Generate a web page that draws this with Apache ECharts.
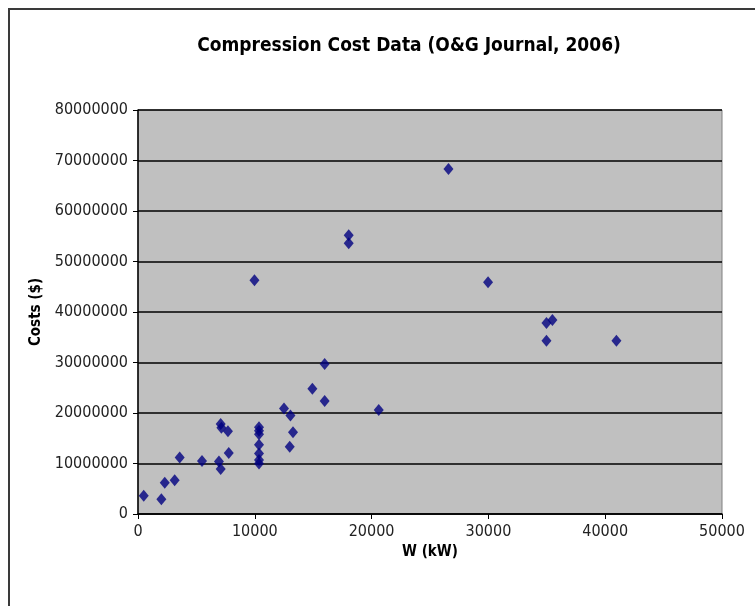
<!DOCTYPE html>
<html>
<head>
<meta charset="utf-8">
<script src="https://cdn.jsdelivr.net/npm/echarts@6/dist/echarts.min.js"></script>
<style>
html,body{margin:0;padding:0;background:#fff;}
#chart{width:755px;height:606px;}
</style>
</head>
<body>
<div id="chart"></div>
<script>
const titleText = "Compression Cost Data (O&G Journal, 2006)";
const xAxisName = "W (kW)";
const yAxisName = "Costs ($)";
const powerKW = [490, 2000, 2290, 3140, 3570, 5480, 6930, 7080, 7080, 7140, 7700, 7770,
  10360, 10360, 10360, 10360, 10360, 10360, 10360,
  12500, 13050, 13270, 12990, 14930, 15980, 15980,
  9970, 18040, 18040, 20610, 26580, 29970, 34970, 35480, 34970, 40960];
const costUSD = [3600000, 2900000, 6200000, 6700000, 11200000, 10500000, 10400000, 8900000, 17800000, 17100000, 16400000, 12100000,
  17200000, 16500000, 15800000, 13700000, 12000000, 10700000, 10000000,
  20900000, 19500000, 16200000, 13300000, 24800000, 22400000, 29700000,
  46300000, 55200000, 53600000, 20600000, 68300000, 45900000, 37800000, 38400000, 34300000, 34300000];
const xTicks = [0, 50000, 10000];
const yTicks = [0, 80000000, 10000000];

const font = '"DejaVu Sans Condensed", "Liberation Sans", sans-serif';
const chart = echarts.init(document.getElementById('chart'), null, {renderer: 'canvas'});
chart.setOption({
  animation: false,
  backgroundColor: '#ffffff',
  textStyle: {fontFamily: font},
  title: {
    text: titleText, left: 404, top: 32, textAlign: 'center',
    textStyle: {fontFamily: font, fontSize: 19, fontWeight: 'bold', color: '#000'}
  },
  graphic: [{
    type: 'rect', z: -1, silent: true,
    shape: {x: 9, y: 9, width: 800, height: 800},
    style: {fill: 'none', stroke: '#3a3a3a', lineWidth: 2}
  }],
  grid: {left: 138, right: 33, top: 110, bottom: 92, show: true,
    backgroundColor: '#c0c0c0', borderColor: '#808080', borderWidth: 1},
  xAxis: {
    type: 'value', min: xTicks[0], max: xTicks[1], interval: xTicks[2],
    name: xAxisName, nameLocation: 'middle', nameGap: 26,
    nameTextStyle: {fontFamily: font, fontSize: 15, fontWeight: 'bold', color: '#000'},
    axisLine: {show: true, lineStyle: {color: '#000', width: 1.5}},
    axisTick: {show: true, length: 5, lineStyle: {color: '#000'}},
    axisLabel: {fontFamily: font, fontSize: 16, color: '#222', margin: 10,
      formatter: v => String(v)},
    splitLine: {show: false}
  },
  yAxis: {
    type: 'value', min: yTicks[0], max: yTicks[1], interval: yTicks[2],
    name: yAxisName, nameLocation: 'middle', nameGap: 85, nameRotate: 90,
    nameTextStyle: {fontFamily: font, fontSize: 15, fontWeight: 'bold', color: '#000'},
    axisLine: {show: true, lineStyle: {color: '#000', width: 1.5}},
    axisTick: {show: true, length: 5, lineStyle: {color: '#000'}},
    axisLabel: {fontFamily: font, fontSize: 16, color: '#222', margin: 10,
      formatter: v => String(v)},
    splitLine: {show: true, lineStyle: {color: '#000', width: 1.5}}
  },
  series: [{
    type: 'scatter',
    symbol: 'diamond', symbolSize: [10, 12],
    itemStyle: {color: '#000080'},
    data: powerKW.map((x, i) => [x, costUSD[i]])
  }]
});
</script>
</body>
</html>
